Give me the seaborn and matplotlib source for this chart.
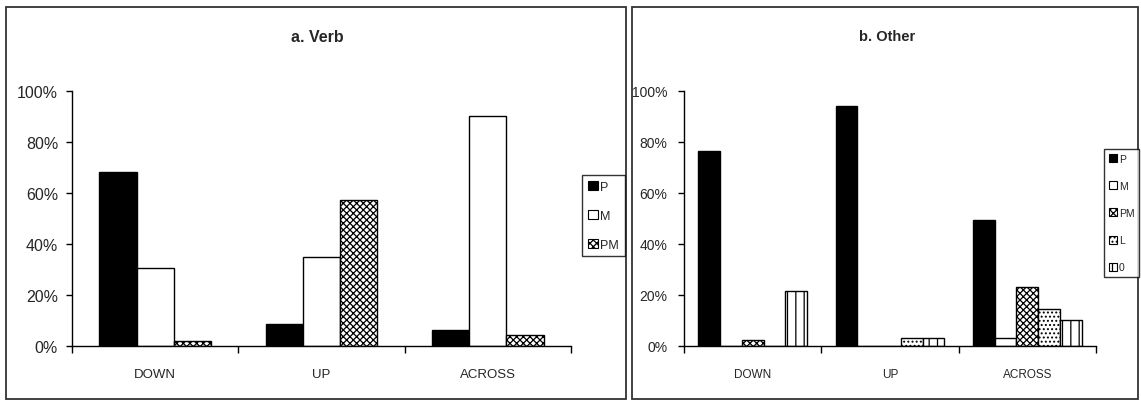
import pandas as pd
import seaborn as sns
import matplotlib
matplotlib.use('Agg')
import matplotlib.pyplot as plt
from matplotlib.patches import Rectangle

# ----------------------------------------------------
# Data (percent)
# ----------------------------------------------------
categories = ['DOWN', 'UP', 'ACROSS']

verb_types = ['P', 'M', 'PM']
verb_P = [68, 8.5, 6.3]
verb_M = [30.5, 35, 90]
verb_PM = [2, 57, 4.3]

other_types = ['P', 'M', 'PM', 'L', '0']
other_P = [76.5, 94, 49.5]
other_M = [0, 0, 3]
other_PM = [2.2, 0, 23.3]
other_L = [0, 3, 14.5]
other_O = [21.5, 3, 10.3]

yticks = [0, 20, 40, 60, 80, 100]

# fill / hatch for each type
fills = {'P': 'black', 'M': 'white', 'PM': 'white', 'L': 'white', '0': 'white'}
hatches = {'P': '', 'M': '', 'PM': 'xxxxx', 'L': '....', '0': '||'}


def long_df(types, series):
    rows = []
    for t, vals in zip(types, series):
        for c, v in zip(categories, vals):
            rows.append({'dir': c, 'type': t, 'pct': v})
    return pd.DataFrame(rows)


sns.set_style('white')
plt.rcParams['font.family'] = ['Liberation Sans', 'DejaVu Sans']
plt.rcParams['hatch.color'] = 'black'
plt.rcParams['hatch.linewidth'] = 0.9

fig = plt.figure(figsize=(11.41, 4.02), dpi=100)

# panel frames
fig.add_artist(Rectangle((6 / 1141, 2 / 402), 620 / 1141, 392 / 402, transform=fig.transFigure,
                         fill=False, edgecolor='#333333', lw=1.3))
fig.add_artist(Rectangle((632 / 1141, 2 / 402), 506 / 1141, 392 / 402, transform=fig.transFigure,
                         fill=False, edgecolor='#333333', lw=1.3))


def draw_panel(rect, types, series, width, title, title_x, tick_fs, cat_fs, title_fs,
               leg_anchor, leg_fs, leg_spacing, ypad):
    ax = fig.add_axes(rect)
    df = long_df(types, series)
    sns.barplot(data=df, x='dir', y='pct', hue='type', order=categories, hue_order=types,
                palette={t: fills[t] for t in types}, saturation=1, width=width,
                edgecolor='black', linewidth=1.0, legend=False, ax=ax)
    for t, cont in zip(types, ax.containers):
        for p in cont:
            p.set_facecolor(fills[t])
            p.set_hatch(hatches[t])
            p.set_edgecolor('black')
    ax.set_xlim(-0.5, 2.5)
    ax.set_ylim(0, 100)
    ax.set_yticks(yticks, labels=[f'{v}%' for v in yticks], fontsize=tick_fs)
    ax.set_xticks([-0.5, 0.5, 1.5, 2.5], labels=['', '', '', ''])
    ax.set_xticks([0, 1, 2], labels=categories, minor=True, fontsize=cat_fs)
    ax.tick_params(axis='x', which='major', length=5, width=1, direction='out', color='black', bottom=True)
    ax.tick_params(axis='x', which='minor', length=0, pad=16)
    ax.tick_params(axis='y', length=4, width=1, direction='out', color='black', pad=ypad, left=True)
    ax.set_xlabel('')
    ax.set_ylabel('')
    for s in ['top', 'right']:
        ax.spines[s].set_visible(False)
    for s in ['left', 'bottom']:
        ax.spines[s].set_color('black')
        ax.spines[s].set_linewidth(1.0)
    fig.text(title_x, 1 - 37 / 402, title, ha='center', va='center', fontsize=title_fs, fontweight='bold')
    handles = [Rectangle((0, 0), 1, 1, facecolor=fills[t], edgecolor='black', hatch=hatches[t], lw=0.8)
               for t in types]
    leg = fig.legend(handles, types, loc='upper left', bbox_to_anchor=leg_anchor,
                     bbox_transform=fig.transFigure, fontsize=leg_fs, frameon=True, fancybox=False,
                     handlelength=0.8, handleheight=0.8, handletextpad=0.2, labelspacing=leg_spacing,
                     borderpad=0.45, borderaxespad=0)
    leg.get_frame().set_edgecolor('black')
    leg.get_frame().set_linewidth(1.0)
    return ax


y0 = 1 - 347 / 402
h = (347 - 91.7) / 402

draw_panel([72 / 1141, y0, (571 - 72) / 1141, h], verb_types, [verb_P, verb_M, verb_PM],
           0.67, 'a. Verb', 317 / 1141, 11.5, 9.5, 11.5, (582 / 1141, 1 - 176 / 402), 9, 1.35, 6)

draw_panel([684 / 1141, y0, (1096 - 684) / 1141, h], other_types,
           [other_P, other_M, other_PM, other_L, other_O],
           0.79, 'b. Other', 887 / 1141, 10, 8.5, 10.5, (1104 / 1141, 1 - 150 / 402), 7.5, 1.65, 8)

fig.savefig('out.png', dpi=100)
